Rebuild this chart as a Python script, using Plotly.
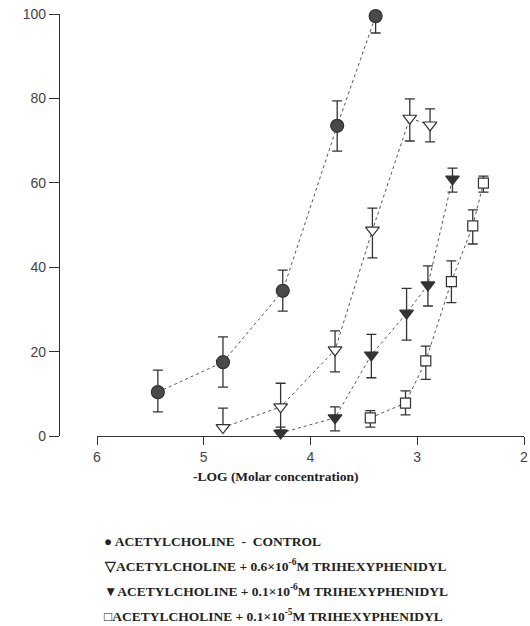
import plotly.graph_objects as go

# Control (filled circles)
ctrl_x = [5.43, 4.82, 4.26, 3.75, 3.39]
ctrl_y = [10.4, 17.5, 34.4, 73.5, 99.5]
ctrl_up = [5.2, 6.0, 4.9, 5.9, 0.0]
ctrl_dn = [4.7, 5.9, 4.8, 6.0, 4.0]

# 0.6e-6 M (open triangles)
ot_x = [4.82, 4.28, 3.77, 3.42, 3.07, 2.88]
ot_y = [2.0, 6.9, 20.4, 48.8, 75.3, 73.7]
ot_up = [4.6, 5.6, 4.5, 5.2, 4.6, 3.8]
ot_dn = [0.0, 5.5, 5.2, 6.6, 5.4, 4.0]

# 0.1e-6 M (filled triangles)
ft_x = [4.28, 3.77, 3.43, 3.10, 2.90, 2.67]
ft_y = [0.7, 4.3, 19.2, 29.1, 35.8, 60.9]
ft_up = [1.4, 2.6, 4.9, 5.9, 4.5, 2.6]
ft_dn = [0.0, 3.1, 5.4, 6.4, 5.0, 3.1]

# 0.1e-5 M (open squares)
sq_x = [3.44, 3.11, 2.92, 2.68, 2.48, 2.38]
sq_y = [4.3, 7.8, 17.8, 36.6, 49.8, 59.9]
sq_up = [1.7, 2.9, 3.5, 4.9, 3.8, 1.7]
sq_dn = [2.2, 2.8, 4.4, 5.0, 4.3, 2.1]

x_ticks = [6, 5, 4, 3, 2]
y_ticks = [0, 20, 40, 60, 80, 100]

legend_lines = [
    "● ACETYLCHOLINE  -  CONTROL",
    "▽ACETYLCHOLINE + 0.6×10<sup>-6</sup>M TRIHEXYPHENIDYL",
    "▼ACETYLCHOLINE + 0.1×10<sup>-6</sup>M TRIHEXYPHENIDYL",
    "□ACETYLCHOLINE + 0.1×10<sup>-5</sup>M TRIHEXYPHENIDYL",
]
legend_rows_px = [541, 565, 590, 615]

ink = "#333333"
fig = go.Figure()

def add(x, y, up, dn, symbol, fill, size):
    fig.add_trace(go.Scatter(
        x=x, y=y, mode="lines+markers",
        line=dict(color="#555", width=1, dash="dot"),
        marker=dict(symbol=symbol, size=size, color=fill,
                    line=dict(color=ink, width=1.2)),
        error_y=dict(type="data", symmetric=False, array=up, arrayminus=dn,
                     color=ink, thickness=1.3, width=5),
        cliponaxis=False, showlegend=False,
    ))

add(ctrl_x, ctrl_y, ctrl_up, ctrl_dn, "circle", "#4a4a4a", 13)
add(ot_x, ot_y, ot_up, ot_dn, "triangle-down", "white", 12)
add(ft_x, ft_y, ft_up, ft_dn, "triangle-down", "#333333", 12)
add(sq_x, sq_y, sq_up, sq_dn, "square", "white", 10)

for t, py in zip(legend_lines, legend_rows_px):
    fig.add_annotation(
        text="<b>" + t + "</b>", xref="paper", yref="paper", x=(102 - 59) / 465,
        y=(436 - py) / 422.0,
        xanchor="left", yanchor="middle", showarrow=False,
        font=dict(family="Liberation Serif", size=13.5, color="#222"),
    )

fig.add_annotation(
    text="<b>-LOG (Molar concentration)</b>", xref="paper", yref="paper",
    x=(275 - 59) / 465, y=(436 - 476) / 422.0, xanchor="center", yanchor="middle",
    showarrow=False, font=dict(family="Liberation Serif", size=13.5, color="#222"),
)

fig.update_layout(
    width=530, height=626,
    margin=dict(l=59, r=6, t=14, b=190),
    paper_bgcolor="white", plot_bgcolor="white",
    xaxis=dict(
        domain=[(97 - 59) / 465, 1], range=[6, 2], automargin=False,
        tickvals=x_ticks, ticktext=[str(v) for v in x_ticks],
        showline=True, linecolor=ink, linewidth=1.3,
        ticks="outside", ticklen=8, tickcolor=ink, tickwidth=1.2,
        showgrid=False, zeroline=False,
        tickfont=dict(family="Liberation Sans", size=14, color="#444"),
    ),
    yaxis=dict(
        range=[0, 100], anchor="free", position=0, automargin=False,
        tickvals=y_ticks,
        showline=True, linecolor=ink, linewidth=1.3,
        ticks="outside", ticklen=10, tickcolor=ink, tickwidth=1.2,
        showgrid=False, zeroline=False,
        tickfont=dict(family="Liberation Sans", size=14, color="#444"),
    ),
)

fig.write_html("out.html", config={"displayModeBar": False},
               post_script="document.body.style.margin='0';document.body.style.overflow='hidden';")
